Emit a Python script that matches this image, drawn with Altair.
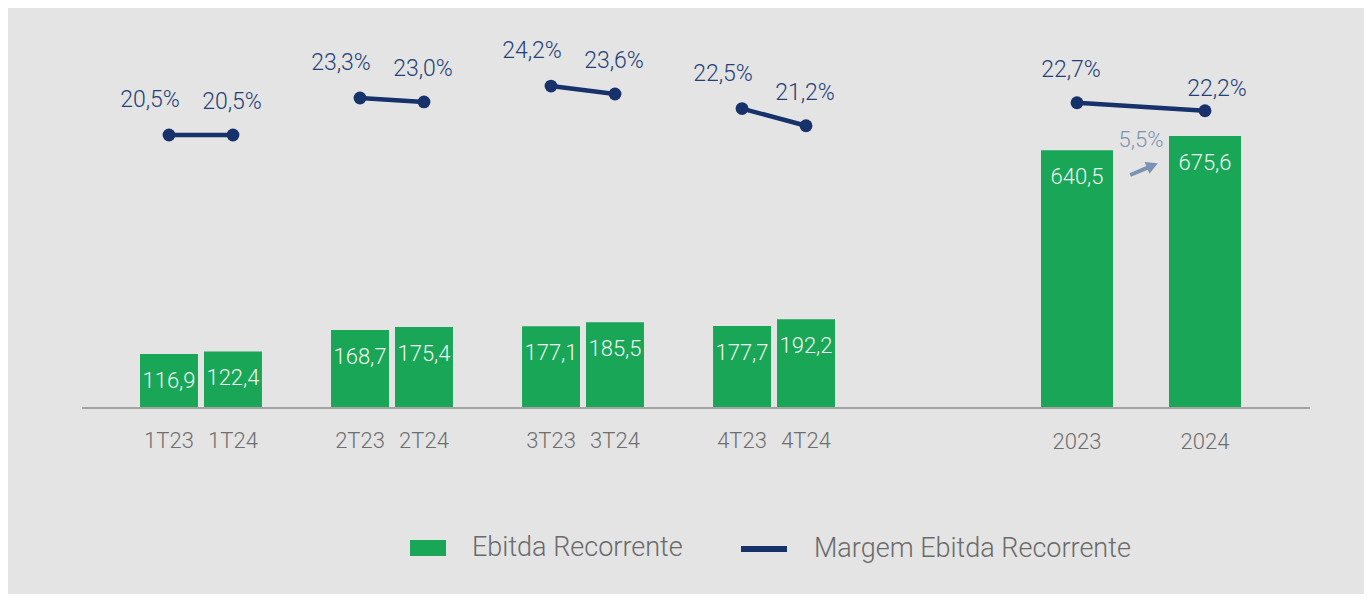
import altair as alt
import pandas as pd

# ---------------- data ----------------
rotulos_trim = ["1T23", "1T24", "2T23", "2T24", "3T23", "3T24", "4T23", "4T24"]
ebitda_trim = [116.9, 122.4, 168.7, 175.4, 177.1, 185.5, 177.7, 192.2]
margem_trim = [20.5, 20.5, 23.3, 23.0, 24.2, 23.6, 22.5, 21.2]
anos = ["2023", "2024"]
ebitda_ano = [640.5, 675.6]
margem_ano = [22.7, 22.2]
serie_barra = "Ebitda Recorrente"
serie_linha = "Margem Ebitda Recorrente"

# ---------------- style ----------------
BG = "#e4e4e4"
GREEN = "#19a657"
NAVY = "#17316a"
NAVY_TXT = "#263f78"
BAR_TXT = "#eef7f1"
AXIS_TXT = "#6e6e6e"
ANNOT = "#7d91b3"
FONT = "Roboto, Liberation Sans, sans-serif"
W = 300
ARROW = "M-1,-0.13L0.22,-0.13L0.22,-0.42L1,0L0.22,0.42L0.22,0.13L-1,0.13Z"


def br(v, suf=""):
    return f"{v:.1f}".replace(".", ",") + suf


trim = pd.DataFrame({"rotulo": rotulos_trim, "ebitda": ebitda_trim, "margem": margem_trim})
trim["grupo"] = trim["rotulo"].str[:2]
trim["ano"] = "20" + trim["rotulo"].str[2:]
trim["txt_ebitda"] = trim["ebitda"].map(br)
trim["txt_margem"] = trim["margem"].map(lambda v: br(v, "%"))
trim["serie_b"] = serie_barra
trim["serie_l"] = serie_linha

anual = pd.DataFrame({"ano": anos, "ebitda": ebitda_ano, "margem": margem_ano})
anual["txt_ebitda"] = anual["ebitda"].map(br)
anual["txt_margem"] = anual["margem"].map(lambda v: br(v, "%"))

cresc = (ebitda_ano[1] / ebitda_ano[0] - 1) * 100
anot = pd.DataFrame({"ano": [anos[1]], "ebitda": [ebitda_ano[1]], "base": [ebitda_ano[0]],
                     "txt": [br(cresc, "%")]})

# ---------------- scales ----------------
xq_scale = alt.Scale(range=[55, 756], paddingInner=0.33, paddingOuter=0)
xoff_scale = alt.Scale(paddingInner=0.094, paddingOuter=0.047)
yq_bar = alt.Scale(domain=[0, 840], nice=False, zero=False)
yq_lin = alt.Scale(domain=[-0.12, 29.19], nice=False, zero=False)
xa_scale = alt.Scale(range=[959, 1159], paddingInner=0.4375, paddingOuter=0)
ya_bar = alt.Scale(domain=[0, 963.7], nice=False, zero=False)
ya_lin = alt.Scale(domain=[3.62, 27.87], nice=False, zero=False)

XQ = alt.X("grupo:N", scale=xq_scale, axis=None, sort=None)
XOFF = alt.XOffset("ano:N", scale=xoff_scale)

leg_common = dict(orient="none", title=None, padding=0, symbolOpacity=1, labelLimit=500,
                  labelFont=FONT, labelFontSize=27, labelFontWeight=W, labelColor="#6a6a6a")

# ---------------- quarterly ----------------
qbase = alt.Chart(trim)

q_bar = qbase.mark_bar().encode(
    x=XQ, xOffset=XOFF,
    y=alt.Y("ebitda:Q", scale=yq_bar, axis=None),
    fill=alt.Fill("serie_b:N",
                  scale=alt.Scale(domain=[serie_barra], range=[GREEN]),
                  legend=alt.Legend(legendX=328, legendY=510,
                                    symbolType="M-1,-0.444H1V0.444H-1Z", symbolSize=1296,
                                    symbolStrokeWidth=0, labelOffset=26, **leg_common)),
)
q_bartxt = qbase.mark_text(baseline="middle", dy=27, font=FONT, fontWeight=W, fontSize=22,
                           color=BAR_TXT).encode(
    x=XQ, xOffset=XOFF, y=alt.Y("ebitda:Q", scale=yq_bar, axis=None), text="txt_ebitda:N")
q_cat = qbase.mark_text(baseline="middle", font=FONT, fontWeight=W, fontSize=22,
                        color=AXIS_TXT).encode(
    x=XQ, xOffset=XOFF, y=alt.value(421), text="rotulo:N")

q_line = qbase.mark_line(strokeWidth=4.5).encode(
    x=XQ, xOffset=XOFF,
    y=alt.Y("margem:Q", scale=yq_lin, axis=None),
    detail="grupo:N",
    stroke=alt.Stroke("serie_l:N",
                      scale=alt.Scale(domain=[serie_linha], range=[NAVY]),
                      legend=alt.Legend(legendX=656, legendY=503,
                                        symbolType="stroke", symbolSize=2116, symbolStrokeWidth=6,
                                        labelOffset=24, **leg_common)),
)
q_pts = qbase.mark_circle(size=165, color=NAVY, opacity=1).encode(
    x=XQ, xOffset=XOFF, y=alt.Y("margem:Q", scale=yq_lin, axis=None))
q_lab23 = qbase.transform_filter(alt.datum.ano == "2023").mark_text(
    baseline="middle", dx=-19, dy=-35, font=FONT, fontWeight=W, fontSize=23, color=NAVY_TXT).encode(
    x=XQ, xOffset=XOFF, y=alt.Y("margem:Q", scale=yq_lin, axis=None), text="txt_margem:N")
q_lab24 = qbase.transform_filter(alt.datum.ano == "2024").mark_text(
    baseline="middle", dx=-1, dy=-33, font=FONT, fontWeight=W, fontSize=23, color=NAVY_TXT).encode(
    x=XQ, xOffset=XOFF, y=alt.Y("margem:Q", scale=yq_lin, axis=None), text="txt_margem:N")

quarter = alt.layer(
    alt.layer(q_bar, q_bartxt, q_cat),
    alt.layer(q_line, q_pts, q_lab23, q_lab24),
).resolve_scale(y="independent")

# ---------------- annual ----------------
XA = alt.X("ano:N", scale=xa_scale, sort=None,
           axis=alt.Axis(title=None, domain=False, ticks=False, tickSize=0,
                         labelAngle=0, labelFont=FONT, labelFontWeight=W, labelFontSize=22,
                         labelColor=AXIS_TXT, labelPadding=33, labelBaseline="middle", grid=False))
abase = alt.Chart(anual)
a_bar = abase.mark_bar(color=GREEN).encode(x=XA, y=alt.Y("ebitda:Q", scale=ya_bar, axis=None))
a_bartxt = abase.mark_text(baseline="middle", dy=27, font=FONT, fontWeight=W, fontSize=22,
                           color=BAR_TXT).encode(
    x=XA, y=alt.Y("ebitda:Q", scale=ya_bar, axis=None), text="txt_ebitda:N")
a_base = abase.mark_rule(color="#a3a3a3", strokeWidth=2).encode(
    y=alt.Y(datum=0, scale=ya_bar, axis=None))
a_anot = alt.Chart(anot).mark_text(baseline="middle", dx=-64, dy=4, font=FONT, fontWeight=W,
                                   fontSize=22, color=ANNOT).encode(
    x=XA, y=alt.Y("ebitda:Q", scale=ya_bar, axis=None), text="txt:N")
a_seta = alt.Chart(anot).mark_point(shape=ARROW, filled=True, size=900, angle=337, opacity=1,
                                    color=ANNOT, strokeWidth=0).encode(
    x=XA, y=alt.Y("base:Q", scale=ya_bar, axis=None),
    xOffset=alt.value(-25), yOffset=alt.value(19))

a_line = abase.mark_line(strokeWidth=4.5, color=NAVY).encode(
    x=XA, y=alt.Y("margem:Q", scale=ya_lin, axis=None))
a_pts = abase.mark_circle(size=165, color=NAVY, opacity=1).encode(
    x=XA, y=alt.Y("margem:Q", scale=ya_lin, axis=None))
a_lab23 = abase.transform_filter(alt.datum.ano == "2023").mark_text(
    baseline="middle", dx=-6, dy=-33, font=FONT, fontWeight=W, fontSize=23, color=NAVY_TXT).encode(
    x=XA, y=alt.Y("margem:Q", scale=ya_lin, axis=None), text="txt_margem:N")
a_lab24 = abase.transform_filter(alt.datum.ano == "2024").mark_text(
    baseline="middle", dx=12, dy=-22, font=FONT, fontWeight=W, fontSize=23, color=NAVY_TXT).encode(
    x=XA, y=alt.Y("margem:Q", scale=ya_lin, axis=None), text="txt_margem:N")

annual = alt.layer(
    alt.layer(a_bar, a_bartxt, a_base, a_anot, a_seta),
    alt.layer(a_line, a_pts, a_lab23, a_lab24),
).resolve_scale(y="independent")

chart = alt.layer(quarter, annual).resolve_scale(x="independent", y="independent").properties(
    width=1228, height=388,
    padding={"left": 74, "top": 12, "right": 54, "bottom": 186},
    autosize=alt.AutoSizeParams(type="none"),
).configure(background=BG).configure_view(stroke=None)

chart.save("out.html", embed_options={"renderer": "svg", "actions": False})
